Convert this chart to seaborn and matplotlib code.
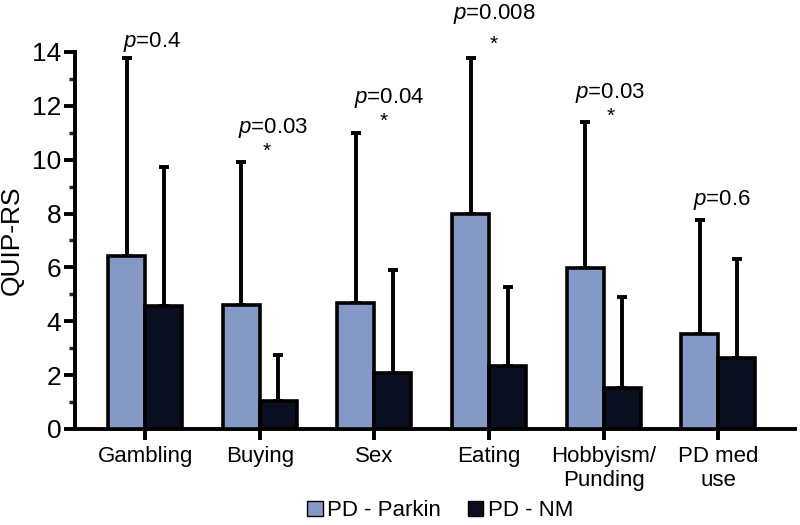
import numpy as np
import pandas as pd
import matplotlib
matplotlib.use("Agg")
import matplotlib.pyplot as plt
import seaborn as sns
from matplotlib.ticker import MultipleLocator
from matplotlib.patches import Patch

# ---- data ----
categories = ["Gambling", "Buying", "Sex", "Eating", "Hobbyism/\nPunding", "PD med\nuse"]
groups = ["PD - Parkin", "PD - NM"]
parkin_mean = [6.42, 4.62, 4.68, 8.00, 5.96, 3.53]
parkin_sd = [7.35, 5.30, 6.30, 5.77, 5.43, 4.22]
nm_mean = [4.56, 1.05, 2.08, 2.35, 1.52, 2.65]
nm_sd = [5.17, 1.70, 3.82, 2.92, 3.38, 3.66]
p_values = ["0.4", "0.03", "0.04", "0.008", "0.03", "0.6"]
significant = [False, True, True, True, True, False]

# ---- layout of annotations (offsets above the highest error bar) ----
p_dx = [0.06, 0.12, 0.13, 0.05, 0.06, 0.03]
star_dx = [0.0, 0.06, 0.08, 0.04, 0.06, 0.0]
p_dy = [0.60, 1.24, 1.32, 1.64, 1.10, 0.75]
star_dy = [0.0, 0.40, 0.44, 0.50, 0.22, 0.0]

colors = {"PD - Parkin": "#8499c5", "PD - NM": "#0a0f1f"}

sns.set_theme(style="white")
plt.rcParams["font.family"] = ["Liberation Sans", "DejaVu Sans"]
plt.rcParams["mathtext.fontset"] = "custom"
plt.rcParams["mathtext.it"] = "Liberation Sans:italic"
plt.rcParams["mathtext.rm"] = "Liberation Sans"
plt.rcParams["text.color"] = "black"
plt.rcParams["axes.labelcolor"] = "black"

df = pd.DataFrame({
    "category": categories * 2,
    "group": [groups[0]] * len(categories) + [groups[1]] * len(categories),
    "mean": parkin_mean + nm_mean,
    "sd": parkin_sd + nm_sd,
})

fig, ax = plt.subplots(figsize=(8, 5.25), dpi=100)
fig.subplots_adjust(left=0.094, right=0.994, bottom=0.183, top=0.901)

sns.barplot(data=df, x="category", y="mean", hue="group", order=categories,
            hue_order=groups, palette=colors, width=0.645, gap=0, saturation=1,
            errorbar=None, edgecolor="black", linewidth=2.6, ax=ax,
            legend=False, zorder=3)

# error bars (upper only) at bar centres
n = len(categories)
patches = ax.patches[:2 * n]
for gi, (means, sds) in enumerate([(parkin_mean, parkin_sd), (nm_mean, nm_sd)]):
    xs = [patches[gi * n + i].get_x() + patches[gi * n + i].get_width() / 2 for i in range(n)]
    ax.errorbar(xs, means, yerr=[np.zeros(n), sds], fmt="none", ecolor="black",
                elinewidth=2.8, capsize=3.5, capthick=2.8, zorder=2)

# p-value annotations
for i in range(n):
    top = max(parkin_mean[i] + parkin_sd[i], nm_mean[i] + nm_sd[i])
    ax.text(i + p_dx[i], top + p_dy[i], r"$\it{p}$=" + p_values[i], ha="center",
            va="center", fontsize=16, color="black", clip_on=False)
    if significant[i]:
        ax.text(i + star_dx[i], top + star_dy[i], "*", ha="center", va="center",
                fontsize=15, color="black", clip_on=False)

ax.set_ylim(0, 14)
ax.set_xlim(-0.61, 5.67)
ax.yaxis.set_major_locator(MultipleLocator(2))
ax.yaxis.set_minor_locator(MultipleLocator(1))
ax.set_ylabel("QUIP-RS", fontsize=19, color="black")
ax.yaxis.set_label_coords(-0.071, 0.5)
ax.set_xlabel("")
ax.tick_params(axis="y", which="major", direction="out", length=8, width=2.8,
               labelsize=19, left=True, pad=2, colors="black")
ax.tick_params(axis="y", which="minor", direction="out", length=4, width=2.5, left=True)
ax.tick_params(axis="x", which="major", direction="out", length=8, width=2.8,
               labelsize=16, bottom=True, pad=4, colors="black")
for s in ["top", "right"]:
    ax.spines[s].set_visible(False)
for s in ["left", "bottom"]:
    ax.spines[s].set_linewidth(2.8)
    ax.spines[s].set_color("black")
ax.grid(False)

handles = [Patch(facecolor=colors[g], edgecolor="black", linewidth=1.0, label=g) for g in groups]
fig.legend(handles=handles, loc="center", bbox_to_anchor=(0.55, 0.027), ncol=2,
           frameon=False, fontsize=16, handlelength=0.7, handleheight=0.7,
           handletextpad=0.2, columnspacing=1.2, labelcolor="black")

fig.savefig("out.png", dpi=100)
